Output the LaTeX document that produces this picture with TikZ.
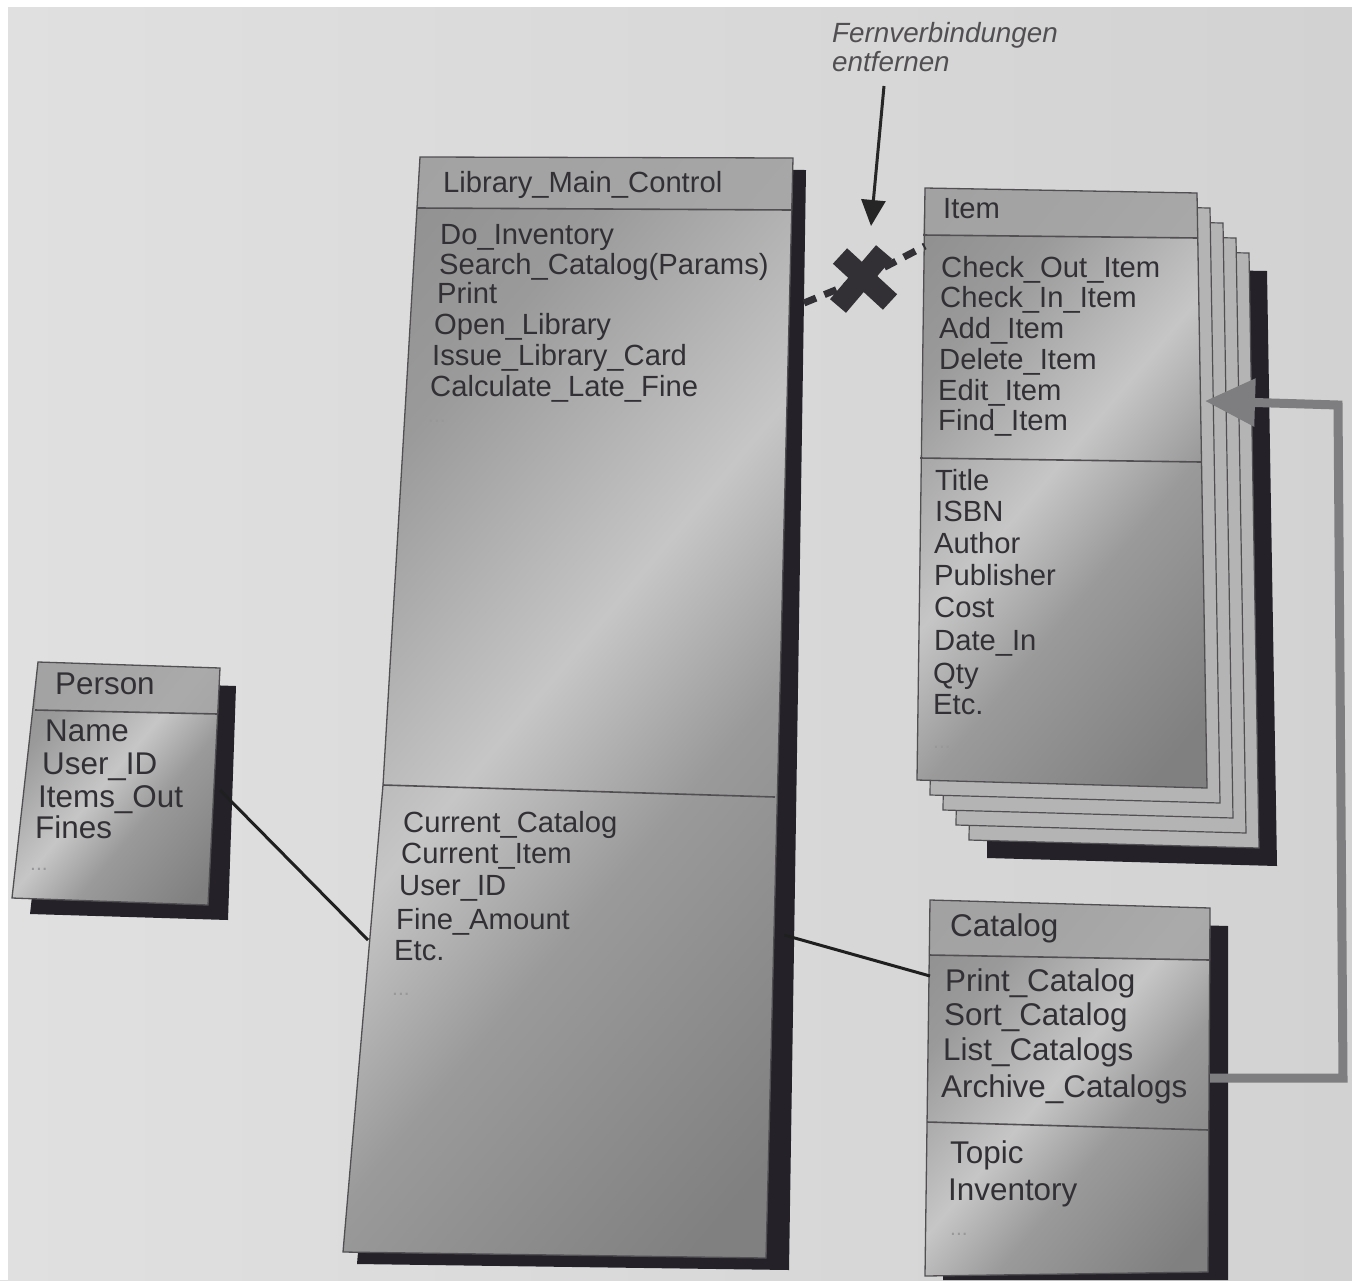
\documentclass[tikz,border=0pt]{standalone}
\usepackage{fontspec}
\setmainfont{Liberation Sans}
\usetikzlibrary{arrows.meta}

\definecolor{paper}{RGB}{210,210,210}
\definecolor{paperlight}{RGB}{224,224,224}
\definecolor{ink}{RGB}{50,48,52}
\definecolor{boxdark}{RGB}{128,128,128}
\definecolor{boxmid}{RGB}{154,154,154}
\definecolor{boxlight}{RGB}{198,198,198}
\definecolor{titlegray}{RGB}{166,166,166}
\definecolor{sheetgray}{RGB}{180,180,180}
\definecolor{shadowcol}{RGB}{36,34,40}
\definecolor{wire}{RGB}{126,126,128}

% brushed-metal fill of the class boxes
\pgfdeclarehorizontalshading{metal}{100bp}{%
  color(0bp)=(boxdark); color(30bp)=(boxmid); color(48bp)=(boxlight);
  color(60bp)=(boxmid); color(80bp)=(boxdark); color(100bp)=(boxdark)}

\begin{document}
\begin{tikzpicture}[x=1pt,y=-1pt,
  body/.style={shading=metal, shading angle=-40},
  titlebar/.style={fill=titlegray, fill opacity=0.85},
  outline/.style={draw=ink!85, line width=1.3pt},
  divider/.style={draw=ink!85, line width=1.6pt},
  boxshadow/.style={fill=shadowcol},
  sheet/.style={fill=sheetgray, draw=ink!85, line width=1.2pt},
  boxtext/.style={anchor=west, inner sep=0pt, text=ink,
    font=\fontsize{29.2}{30}\selectfont, text height=21pt, text depth=6pt},
  bigtext/.style={boxtext, font=\fontsize{31.4}{32}\selectfont},
  dots/.style={anchor=west, inner sep=0pt, text=ink!50,
    font=\fontsize{21}{21}\selectfont},
  assoc/.style={draw=black!88, line width=3pt},
  remote/.style={draw=ink, line width=7pt, dash pattern=on 13pt off 9pt},
  crossbar/.style={draw=ink, line width=21pt},
  pointer/.style={draw=black!85, line width=3pt,
    -{Triangle[length=26pt,width=24pt]}},
  flow/.style={draw=wire, line width=9pt,
    -{Triangle[length=50pt,width=46pt]}},
  note/.style={anchor=west, inner sep=0pt, text=ink!85, align=left,
    font=\fontsize{27.8}{29}\selectfont\itshape}
]
\useasboundingbox (0,0) rectangle (1352,1280);

% page
\shade[left color=paperlight, right color=paper] (0,0) rectangle (1352,1280);
\fill[white] (0,0) rectangle (1352,7);
\fill[white] (0,0) rectangle (8,1280);

% ---------- Library_Main_Control ----------
\fill[boxshadow] (434,169) -- (806,170) -- (789,1270) -- (357,1264) -- (397,797) -- cycle;
\path[body] (420,157) -- (793,158) -- (766,1258) -- (343,1252) -- (383,785) -- cycle;
\fill[titlebar] (420,157) -- (793,158) -- (792,210) -- (417,208) -- cycle;
\draw[outline] (420,157) -- (793,158) -- (766,1258) -- (343,1252) -- (383,785) -- cycle;
\draw[divider] (417,208) -- (792,210);
\draw[divider] (383,785) -- (775,797);

\node[boxtext] (lmc-title) at (443,185) {Library\_Main\_Control};
\foreach \t/\x/\y [count=\i] in {Do\_Inventory/440/237, Search\_Catalog(Params)/439/267,
    Print/437/296, Open\_Library/434/327, Issue\_Library\_Card/432/358,
    Calculate\_Late\_Fine/430/389}
  \node[boxtext] (lmc-op\i) at (\x,\y) {\t};
\node[dots] (lmc-opmore) at (428,421) {...};
\foreach \t/\x/\y [count=\i] in {Current\_Catalog/403/825, Current\_Item/401/856,
    User\_ID/399/888, Fine\_Amount/396/922, Etc./394/953}
  \node[boxtext] (lmc-at\i) at (\x,\y) {\t};
\node[dots] (lmc-atmore) at (392,994) {...};

% ---------- Person ----------
\fill[boxshadow] (56,680) -- (236,686) -- (228,920) -- (30,914) -- cycle;
\path[body] (38,662) -- (220,668) -- (208,905) -- (12,898) -- cycle;
\fill[titlebar] (38,662) -- (220,668) -- (218,714) -- (35,710) -- cycle;
\draw[outline] (38,662) -- (220,668) -- (208,905) -- (12,898) -- cycle;
\draw[divider] (35,710) -- (218,714);

\node[bigtext] (per-title) at (55,687) {Person};
\foreach \t/\x/\y [count=\i] in {Name/45/734, User\_ID/42/767, Items\_Out/38/800, Fines/35/831}
  \node[bigtext] (per-at\i) at (\x,\y) {\t};
\node[dots] (per-more) at (30,869) {...};

% ---------- Item (stacked instances) ----------
\fill[boxshadow] (995,266) -- (1267,271) -- (1277,866) -- (987,858) -- cycle;
\foreach \k in {4,3,2,1}
  \draw[sheet, shift={(13*\k,15*\k)}] (925,188) -- (1197,193) -- (1207,788) -- (917,780) -- cycle;
\path[body] (925,188) -- (1197,193) -- (1207,788) -- (917,780) -- cycle;
\fill[titlebar] (925,188) -- (1197,193) -- (1198,238) -- (923,235) -- cycle;
\draw[outline] (925,188) -- (1197,193) -- (1207,788) -- (917,780) -- cycle;
\draw[divider] (923,235) -- (1198,238);
\draw[divider] (920,458) -- (1201,462);

\node[boxtext] (item-title) at (943,211) {Item};
\foreach \t/\x/\y [count=\i] in {Check\_Out\_Item/941/270, Check\_In\_Item/940/300,
    Add\_Item/939/331, Delete\_Item/939/362, Edit\_Item/938/393, Find\_Item/938/423}
  \node[boxtext] (item-op\i) at (\x,\y) {\t};
\foreach \t/\x/\y [count=\i] in {Title/935/483, ISBN/935/514, Author/934/546,
    Publisher/934/578, Cost/934/610, Date\_In/934/643, Qty/933/676, Etc./933/707}
  \node[boxtext] (item-at\i) at (\x,\y) {\t};
\node[dots] (item-more) at (933,747) {...};

% ---------- Catalog ----------
\fill[boxshadow] (948,918) -- (1228,926) -- (1228,1280) -- (943,1280) -- cycle;
\path[body] (930,900) -- (1210,908) -- (1208,1272) -- (925,1276) -- cycle;
\fill[titlebar] (930,900) -- (1210,908) -- (1210,960) -- (929,955) -- cycle;
\draw[outline] (930,900) -- (1210,908) -- (1208,1272) -- (925,1276) -- cycle;
\draw[divider] (929,955) -- (1210,960);
\draw[divider] (927,1122) -- (1209,1130);

\node[bigtext] (cat-title) at (950,929) {Catalog};
\foreach \t/\x/\y [count=\i] in {Print\_Catalog/945/984, Sort\_Catalog/944/1018,
    List\_Catalogs/943/1053, Archive\_Catalogs/941/1090}
  \node[bigtext] (cat-op\i) at (\x,\y) {\t};
\foreach \t/\x/\y [count=\i] in {Topic/950/1156, Inventory/948/1193}
  \node[bigtext] (cat-at\i) at (\x,\y) {\t};
\node[dots] (cat-more) at (950,1234) {...};

% ---------- connectors ----------
\coordinate (perR) at (220,790);
\coordinate (lmcL) at (368,940);
\coordinate (lmcR) at (784,935);
\coordinate (catL) at (930,976);
\coordinate (lmcRtop) at (804,303);
\coordinate (itemL) at (925,246);
\coordinate (catR) at (1210,1078);
\coordinate (itemR) at (1205,401);
\coordinate (loopA) at (1343,1078);
\coordinate (loopB) at (1338,405);

\draw[assoc] (perR) -- (lmcL);
\draw[assoc] (lmcR) -- (catL);

% remote link with its removal mark
\node[inner sep=0pt, minimum size=2pt] (xmark) at (860,280) {};
\draw[remote] (lmcRtop) -- (xmark.center) -- (itemL);
\draw[crossbar, line cap=butt] (838,306) -- (884,252);
\draw[crossbar, line cap=butt] (840,256) -- (890,302);

% annotation
\node[note] (remark) at (832,47) {Fernverbindungen\\entfernen};
\coordinate (remarkFoot) at (884,86);
\draw[pointer] (remarkFoot) -- (871,226);

% loop from Catalog back to Item
\draw[flow, line join=miter] (catR) -- (loopA) -- (loopB) -- (itemR);
\end{tikzpicture}
\end{document}
